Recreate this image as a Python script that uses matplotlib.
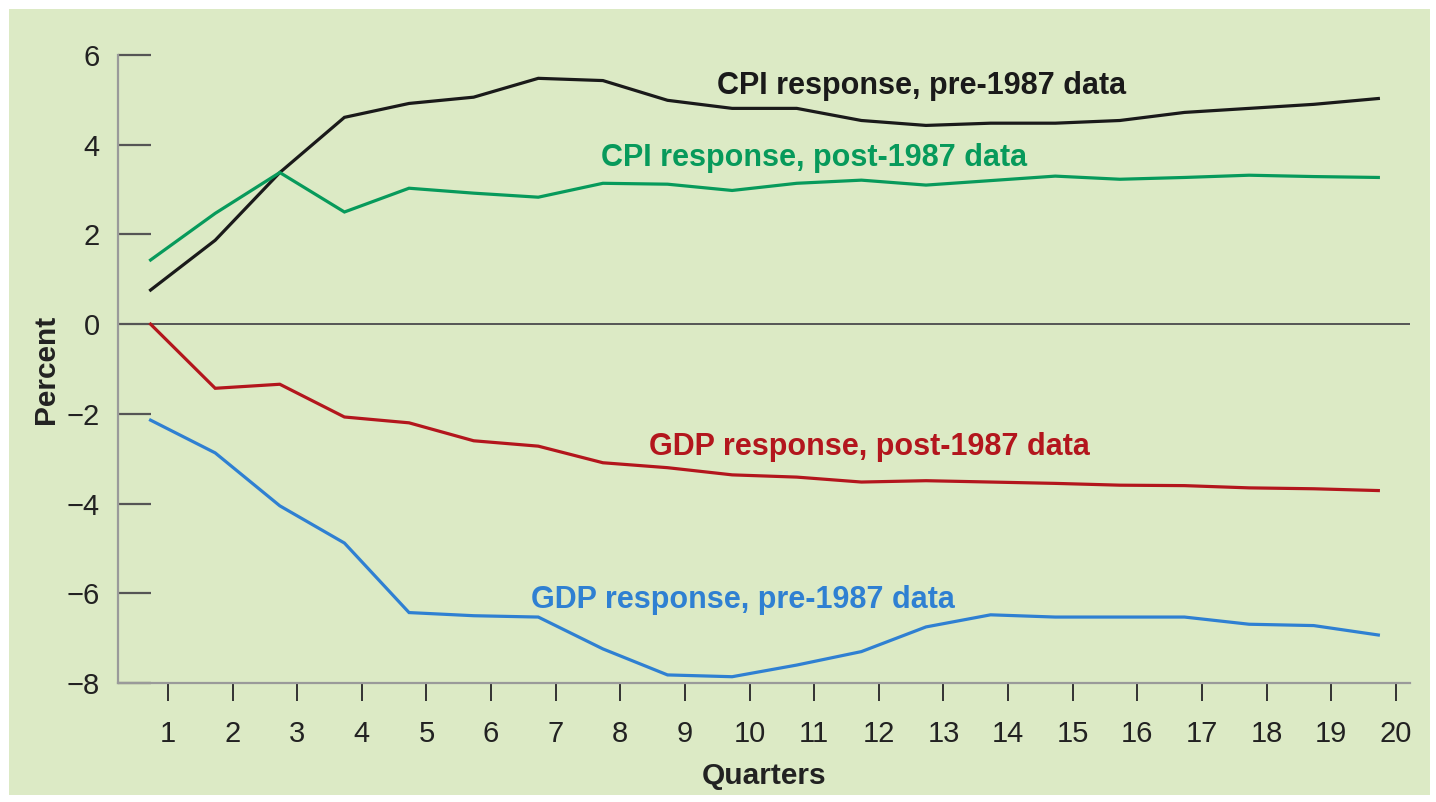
import matplotlib.pyplot as plt
from matplotlib.patches import Rectangle

plt.rcParams['font.family'] = ['Liberation Sans', 'DejaVu Sans']

# impulse responses, percent, by quarter
quarters = list(range(1, 21))
cpi_pre = [0.76, 1.87, 3.38, 4.61, 4.92, 5.06, 5.48, 5.43, 4.99, 4.81,
           4.81, 4.54, 4.43, 4.48, 4.48, 4.54, 4.72, 4.81, 4.9, 5.03]
cpi_post = [1.43, 2.47, 3.38, 2.5, 3.03, 2.92, 2.83, 3.14, 3.12, 2.98,
            3.14, 3.21, 3.1, 3.2, 3.3, 3.23, 3.27, 3.32, 3.29, 3.27]
gdp_post = [0.0, -1.43, -1.34, -2.07, -2.2, -2.6, -2.72, -3.09, -3.2, -3.36,
            -3.41, -3.52, -3.49, -3.52, -3.55, -3.59, -3.6, -3.65, -3.67, -3.71]
gdp_pre = [-2.14, -2.87, -4.05, -4.88, -6.43, -6.5, -6.53, -7.24, -7.82, -7.86,
           -7.6, -7.3, -6.75, -6.48, -6.53, -6.53, -6.53, -6.69, -6.72, -6.93]

series = [
    (cpi_pre, '#1a1a1a', 'CPI response, pre-1987 data', 12.66, 5.32),
    (cpi_post, '#079a5b', 'CPI response, post-1987 data', 11.0, 3.7),
    (gdp_post, '#b3161d', 'GDP response, post-1987 data', 11.85, -2.74),
    (gdp_pre, '#2f80d2', 'GDP response, pre-1987 data', 9.9, -6.15),
]

bg = '#dceac5'
fig = plt.figure(figsize=(14.36, 8.02), dpi=100)
fig.patch.set_facecolor('white')
fig.patches.append(Rectangle((9 / 1436, 7 / 802), 1421 / 1436, 786 / 802,
                             transform=fig.transFigure, facecolor=bg,
                             edgecolor='none', zorder=-10))

ax = fig.add_axes([118 / 1436, 1 - 683 / 802, 1292 / 1436, 628 / 802])
ax.set_facecolor('none')

# data sit a little left of each tick
shift = 0.27
for vals, col, label, tx, ty in series:
    ax.plot([q - shift for q in quarters], vals, color=col, lw=2.3,
            solid_joinstyle='miter', zorder=3)
    ax.text(tx, ty, label, color=col, fontsize=22, fontweight='bold',
            ha='center', va='center')

ax.axhline(0, color='#555555', lw=1.4, zorder=2)

ax.set_xlim(0.226, 20.22)
ax.set_ylim(-8, 6)
ax.set_xticks(quarters)
ax.set_yticks(range(-8, 7, 2))

for s in ['top', 'right']:
    ax.spines[s].set_visible(False)
for s in ['left', 'bottom']:
    ax.spines[s].set_color('#9a9a9a')
    ax.spines[s].set_linewidth(1.6)

ax.tick_params(axis='y', direction='in', length=24, width=1.6,
               color='#555555', labelsize=21, pad=13, labelcolor='#222222')
ax.tick_params(axis='x', direction='out', length=13, width=1.4,
               color='#333333', labelsize=21, pad=14, labelcolor='#222222')

ax.set_xlabel('Quarters', fontsize=21.5, fontweight='bold', color='#222222',
              labelpad=10)
ax.set_ylabel('Percent', fontsize=21.5, fontweight='bold', color='#222222',
              labelpad=5)

fig.savefig('out.png', dpi=100, facecolor='white')
